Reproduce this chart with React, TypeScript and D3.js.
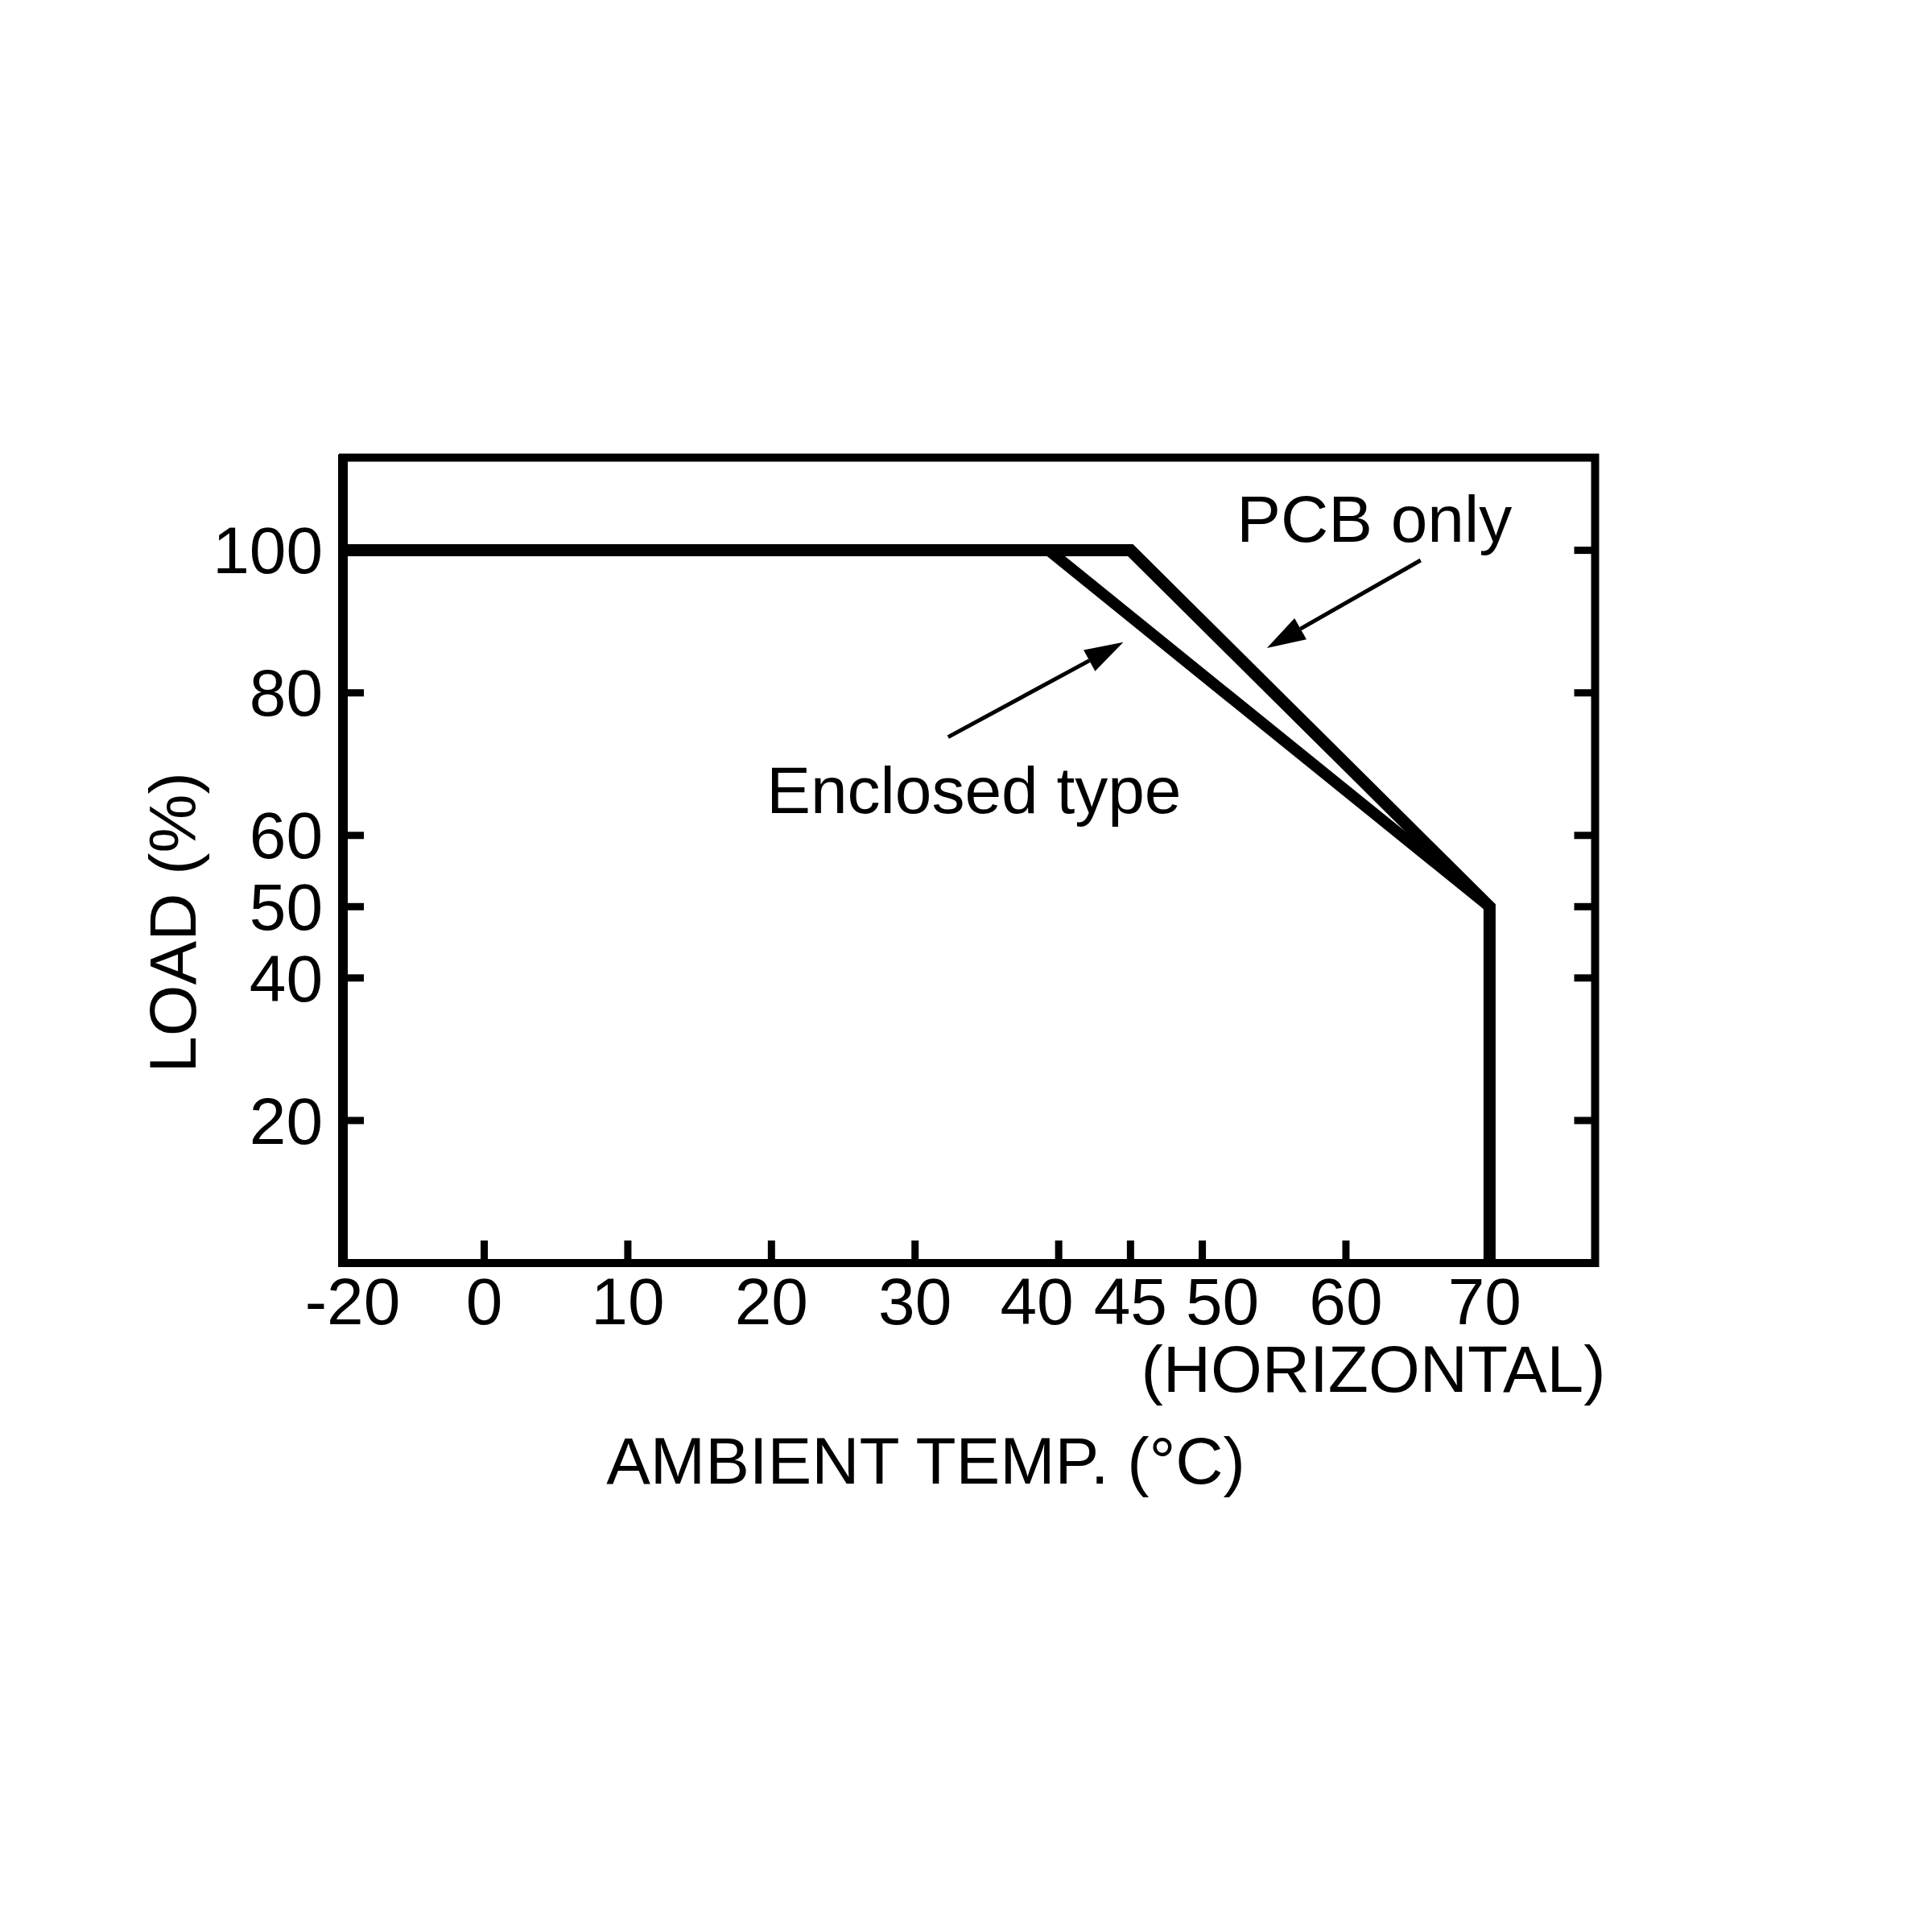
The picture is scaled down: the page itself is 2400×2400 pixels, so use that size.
import * as d3 from "d3";
import * as React from "react";

// derating curves, temperature in degC, load in %
const pcbTemp = [-20, 45, 70, 70];
const pcbLoad = [100, 100, 50, 0];
const enclosedTemp = [-20, 39.3, 70, 70];
const enclosedLoad = [100, 100, 50, 0];

const xTicks = [0, 10, 20, 30, 40, 45, 50, 60, 70];
const xLabels = ["-20", "0", "10", "20", "30", "40", "45", "50", "60", "70"];
const xLabelValues = [-20, 0, 10, 20, 30, 40, 45, 50, 60, 70];
const yTicks = [100, 80, 60, 50, 40, 20];

// annotation text and arrows, in data units
const labelNames = ["PCB only", "Enclosed type"];
const labelTemp = [52.4, 34.1];
const labelLoad = [101.2, 63.1];
const arrowFromTemp = [65.2, 32.3];
const arrowFromLoad = [98.6, 73.8];
const arrowToTemp = [54.5, 44.5];
const arrowToLoad = [86.3, 87.1];

const font = "'Liberation Sans', Arial, Helvetica, sans-serif";

// crowded labels around 45 are pushed apart a little in the original
const labelNudge: { [k: number]: number } = { [-20]: 12, 40: -27, 50: 25, 70: -6 };

export default function App() {
  const width = 2400;
  const height = 2400;
  const left = 426;
  const right = 1981.5;
  const top = 568.5;
  const bottom = 1569;
  const tickLen = 26;

  // axis is broken: -20 sits one division left of 0
  const x = d3.scaleLinear().domain([-20, 0, 77.35]).range([left, left + 175.5, right]);
  const y = d3.scaleLinear().domain([0, 113]).range([bottom, top]);

  const line = d3.line<[number, number]>().x((d) => x(d[0])).y((d) => y(d[1]));
  const pcbPts = pcbTemp.map((t, i) => [t, pcbLoad[i]] as [number, number]);
  const encPts = enclosedTemp.map((t, i) => [t, enclosedLoad[i]] as [number, number]);

  const arrows = arrowFromTemp.map((t, i) => {
    const x1 = x(t), y1 = y(arrowFromLoad[i]);
    const x2 = x(arrowToTemp[i]), y2 = y(arrowToLoad[i]);
    const a = Math.atan2(y2 - y1, x2 - x1);
    const hl = 48, hw = 15;
    const bx = x2 - hl * Math.cos(a), by = y2 - hl * Math.sin(a);
    const px = -Math.sin(a) * hw, py = Math.cos(a) * hw;
    const head = `M${x2},${y2}L${bx + px},${by + py}L${bx - px},${by - py}Z`;
    return (
      <g key={"arrow_" + i}>
        <line x1={x1} y1={y1} x2={bx} y2={by} stroke="#000" strokeWidth={5} />
        <path d={head} fill="#000" />
      </g>
    );
  });

  return (
    <svg width={width} height={height} style={{ position: "absolute", left: 0, top: 0, background: "#fff" }}>
      <g fontFamily={font} fontSize={82} fill="#000">
        {/* frame */}
        <rect x={left} y={top} width={right - left} height={bottom - top} fill="none" stroke="#000" strokeWidth={10} />
        <line x1={left} y1={top - 4} x2={left} y2={bottom + 5} stroke="#000" strokeWidth={12} />

        {/* ticks */}
        {xTicks.map((t) => (
          <line key={"xt" + t} x1={x(t)} x2={x(t)} y1={bottom} y2={bottom - tickLen - 2} stroke="#000" strokeWidth={9} />
        ))}
        {yTicks.map((t) => (
          <g key={"yt" + t}>
            <line x1={left} x2={left + tickLen} y1={y(t)} y2={y(t)} stroke="#000" strokeWidth={9} />
            <line x1={right} x2={right - tickLen} y1={y(t)} y2={y(t)} stroke="#000" strokeWidth={9} />
          </g>
        ))}

        {/* tick labels */}
        {xLabelValues.map((t, i) => (
          <text key={"xl" + t} x={x(t) + (labelNudge[t] || 0)} y={bottom + 76} textAnchor="middle">
            {xLabels[i]}
          </text>
        ))}
        {yTicks.map((t) => (
          <text key={"yl" + t} x={left - 25} y={y(t)} dy="0.35em" textAnchor="end">
            {t}
          </text>
        ))}

        {/* axis titles */}
        <text x={right + 13} y={1729} textAnchor="end">(HORIZONTAL)</text>
        <text x={1150} y={1843} textAnchor="middle">AMBIENT TEMP. (°C)</text>
        <text transform="translate(243,1146) rotate(-90)" textAnchor="middle">LOAD (%)</text>

        {/* curves */}
        <path d={line(encPts)} fill="none" stroke="#000" strokeWidth={14} strokeLinejoin="miter" />
        <path d={line(pcbPts)} fill="none" stroke="#000" strokeWidth={15} strokeLinejoin="miter" />

        {/* annotations */}
        {arrows}
        <text x={x(labelTemp[0])} y={y(labelLoad[0])} textAnchor="start">{labelNames[0]}</text>
        <text x={x(labelTemp[1])} y={y(labelLoad[1])} textAnchor="middle">{labelNames[1]}</text>
      </g>
    </svg>
  );
}
